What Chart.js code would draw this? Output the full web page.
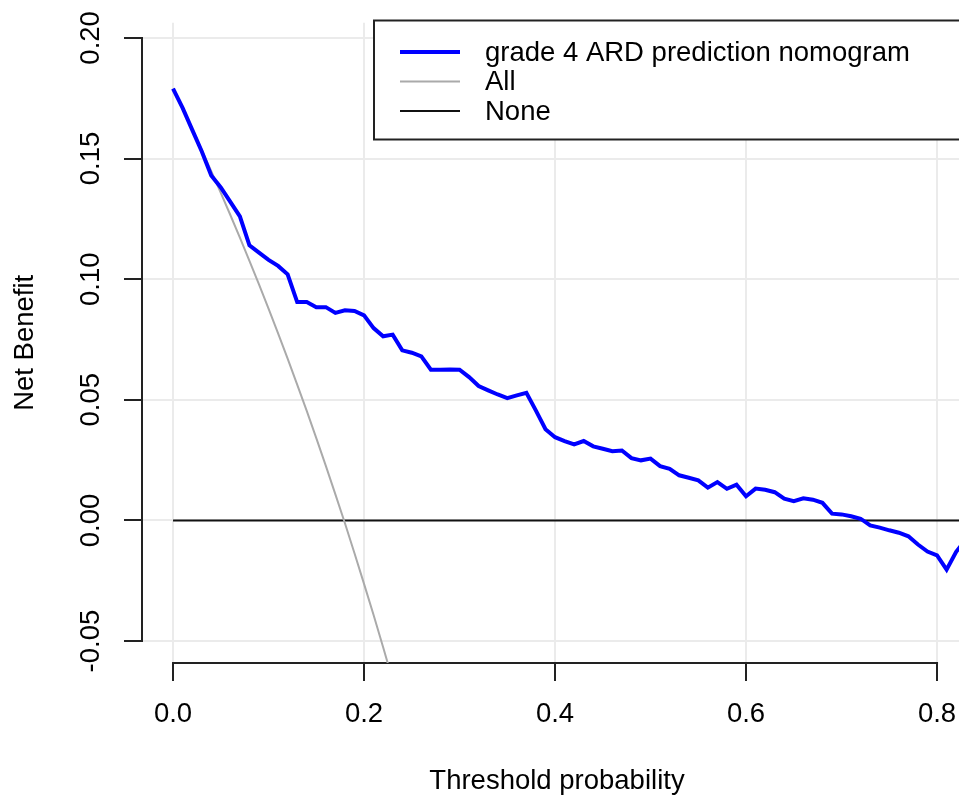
<!DOCTYPE html>
<html>
<head>
<meta charset="utf-8">
<script src="https://cdn.jsdelivr.net/npm/chart.js@4.4.1/dist/chart.umd.min.js"></script>
<style>
  html, body { margin: 0; padding: 0; background: #fff; overflow: hidden; }
  #wrap { position: relative; width: 1000px; height: 795px; }
</style>
</head>
<body>
<div id="wrap"><canvas id="dca"></canvas></div>
<script>
// ===============================
// Data
// ===============================
const thresholds = [
  0.00, 0.01, 0.02, 0.03, 0.04, 0.05, 0.06, 0.07, 0.08, 0.09,
  0.10, 0.11, 0.12, 0.13, 0.14, 0.15, 0.16, 0.17, 0.18, 0.19,
  0.20, 0.21, 0.22, 0.23, 0.24, 0.25, 0.26, 0.27, 0.28, 0.29,
  0.30, 0.31, 0.32, 0.33, 0.34, 0.35, 0.36, 0.37, 0.38, 0.39,
  0.40, 0.41, 0.42, 0.43, 0.44, 0.45, 0.46, 0.47, 0.48, 0.49,
  0.50, 0.51, 0.52, 0.53, 0.54, 0.55, 0.56, 0.57, 0.58, 0.59,
  0.60, 0.61, 0.62, 0.63, 0.64, 0.65, 0.66, 0.67, 0.68, 0.69,
  0.70, 0.71, 0.72, 0.73, 0.74, 0.75, 0.76, 0.77, 0.78, 0.79,
  0.80, 0.81, 0.82, 0.83
];

const nomogramBenefit = [
  0.179, 0.171, 0.162, 0.153, 0.143, 0.138, 0.132, 0.126, 0.114, 0.111,
  0.108, 0.1055, 0.102, 0.0905, 0.0905, 0.0884, 0.0884, 0.0860, 0.0871, 0.0868,
  0.0850, 0.0797, 0.0763, 0.0770, 0.0705, 0.0695, 0.0680, 0.0625, 0.0625, 0.0626,
  0.0625, 0.0594, 0.0557, 0.0539, 0.0522, 0.0507, 0.0518, 0.0529, 0.0455, 0.0378,
  0.0345, 0.0329, 0.0315, 0.0329, 0.0307, 0.0297, 0.0287, 0.0290, 0.0258, 0.0249,
  0.0256, 0.0225, 0.0214, 0.0187, 0.0177, 0.0166, 0.0136, 0.0159, 0.0131, 0.0148,
  0.0100, 0.0132, 0.0127, 0.0117, 0.0090, 0.0080, 0.0092, 0.0086, 0.0073, 0.0028,
  0.0025, 0.0017, 0.0007, -0.0021, -0.0030, -0.0041, -0.0051, -0.0066, -0.0100, -0.0129,
  -0.0145, -0.0204, -0.0130, -0.0080
];

// "All" curve, only the part inside the plot
const allThresholds = [
  0.00, 0.01, 0.02, 0.03, 0.04, 0.05, 0.06, 0.07, 0.08, 0.09,
  0.10, 0.11, 0.12, 0.13, 0.14, 0.15, 0.16, 0.17, 0.18, 0.19,
  0.20, 0.21, 0.22, 0.23
];
const allBenefit = [
  0.179, 0.1707, 0.1622, 0.1536, 0.1448, 0.1358, 0.1266, 0.1172, 0.1076, 0.0978,
  0.0878, 0.0775, 0.0671, 0.0563, 0.0454, 0.0341, 0.0226, 0.0108, -0.0012, -0.0136,
  -0.0263, -0.0392, -0.0526, -0.0662
];

const noneThresholds = [0.00, 0.83];
const noneBenefit = [0, 0];

const xTicks = [0, 0.2, 0.4, 0.6, 0.8];
const xTickLabels = ["0.0", "0.2", "0.4", "0.6", "0.8"];
const yTicks = [-0.05, 0, 0.05, 0.10, 0.15, 0.20];
const yTickLabels = ["-0.05", "0.00", "0.05", "0.10", "0.15", "0.20"];

// ===============================
// Helpers
// ===============================
function toPoints(xs, ys) {
    return xs.map((x, i) => ({ x: x, y: ys[i] }));
}

const FONT = '"Liberation Sans", Arial, Helvetica, sans-serif';
const FONT_SIZE = 27.5;
Chart.defaults.font.family = FONT;
Chart.defaults.color = '#000';

// R style axis lines: only from first to last tick
const rAxes = {
    id: 'rAxes',
    beforeDatasetsDraw(chart) {
        const { ctx, chartArea, scales } = chart;
        ctx.save();
        ctx.strokeStyle = '#222';
        ctx.lineWidth = 2;
        ctx.beginPath();
        ctx.moveTo(chartArea.left, scales.y.getPixelForValue(yTicks[yTicks.length - 1]) - 1);
        ctx.lineTo(chartArea.left, scales.y.getPixelForValue(yTicks[0]) + 1);
        ctx.moveTo(scales.x.getPixelForValue(xTicks[0]) - 1, chartArea.bottom);
        ctx.lineTo(scales.x.getPixelForValue(xTicks[xTicks.length - 1]) + 1, chartArea.bottom);
        ctx.stroke();
        ctx.restore();
    }
};

// legend box in the top right corner of the plot
const legendBox = {
    id: 'legendBox',
    afterDatasetsDraw(chart) {
        const { ctx, chartArea } = chart;
        const left = 374, top = 20.5, right = chartArea.right, bottom = 139.5;
        ctx.save();
        ctx.fillStyle = '#fff';
        ctx.fillRect(left, top, right - left, bottom - top);
        ctx.strokeStyle = '#222';
        ctx.lineWidth = 2;
        ctx.strokeRect(left, top, right - left, bottom - top);
        ctx.font = FONT_SIZE + 'px ' + FONT;
        ctx.textBaseline = 'middle';
        ctx.textAlign = 'left';
        chart.data.datasets.forEach((ds, i) => {
            const y = 52 + i * 29.5;
            ctx.strokeStyle = ds.borderColor;
            ctx.lineWidth = ds.borderWidth;
            ctx.beginPath();
            ctx.moveTo(400, y);
            ctx.lineTo(460, y);
            ctx.stroke();
            ctx.fillStyle = '#000';
            ctx.fillText(ds.label, 485, y + 1);
        });
        ctx.restore();
    }
};

// ===============================
// Chart
// ===============================
new Chart(document.getElementById('dca').getContext('2d'), {
    type: 'line',
    data: {
        datasets: [
            {
                label: 'grade 4 ARD prediction nomogram',
                data: toPoints(thresholds, nomogramBenefit),
                borderColor: '#0000ff',
                borderWidth: 4,
                pointRadius: 0,
                tension: 0,
                clip: 0
            },
            {
                label: 'All',
                data: toPoints(allThresholds, allBenefit),
                borderColor: '#aaaaaa',
                borderWidth: 2,
                pointRadius: 0,
                tension: 0,
                clip: 0
            },
            {
                label: 'None',
                data: toPoints(noneThresholds, noneBenefit),
                borderColor: '#111111',
                borderWidth: 2,
                pointRadius: 0,
                tension: 0,
                clip: 0
            }
        ]
    },
    options: {
        responsive: true,
        maintainAspectRatio: false,
        animation: false,
        layout: { padding: { left: 0, top: 22.7, right: 28, bottom: 0 } },
        plugins: {
            legend: { display: false },
            tooltip: { enabled: false }
        },
        scales: {
            x: {
                type: 'linear',
                min: -0.0325,
                max: 0.8366,
                afterBuildTicks: s => { s.ticks = xTicks.map(v => ({ value: v })); },
                afterFit: s => { s.height = 132; },
                grid: {
                    color: '#ebebeb',
                    lineWidth: 2,
                    tickLength: 18,
                    tickColor: '#222',
                    tickWidth: 2
                },
                border: { display: false },
                ticks: {
                    font: { size: FONT_SIZE },
                    padding: 17,
                    maxRotation: 0,
                    autoSkip: false,
                    callback: (v, i) => xTickLabels[i]
                },
                title: {
                    display: true,
                    text: 'Threshold probability',
                    font: { size: FONT_SIZE, lineHeight: 1 },
                    padding: { top: 0, bottom: 0 }
                }
            },
            y: {
                type: 'linear',
                min: -0.0591,
                max: 0.2063,
                afterBuildTicks: s => { s.ticks = yTicks.map(v => ({ value: v })); },
                afterFit: s => { s.width = 142; },
                grid: {
                    color: '#ebebeb',
                    lineWidth: 2,
                    tickLength: 18,
                    tickColor: '#222',
                    tickWidth: 2
                },
                border: { display: false },
                ticks: {
                    font: { size: FONT_SIZE },
                    padding: 1,
                    minRotation: 90,
                    maxRotation: 90,
                    crossAlign: 'center',
                    autoSkip: false,
                    callback: (v, i) => yTickLabels[i]
                },
                title: {
                    display: true,
                    text: 'Net Benefit',
                    font: { size: FONT_SIZE, lineHeight: 1 },
                    padding: { top: 12, bottom: 0 }
                }
            }
        }
    },
    plugins: [rAxes, legendBox]
});
</script>
</body>
</html>
